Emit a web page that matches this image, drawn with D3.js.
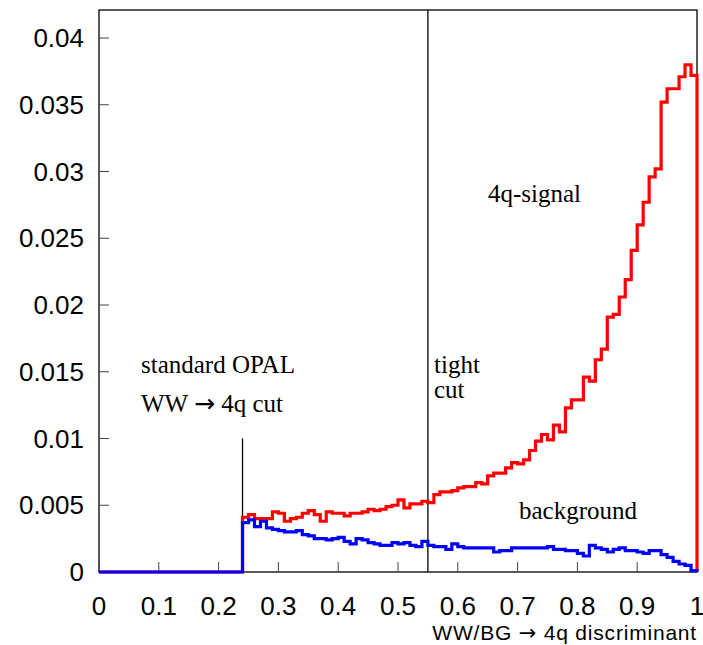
<!DOCTYPE html>
<html>
<head>
<meta charset="utf-8">
<script src="https://cdn.jsdelivr.net/npm/d3@7"></script>
<style>
  html, body { margin: 0; padding: 0; background: #fff; }
  svg { display: block; }
</style>
</head>
<body>
<svg id="chart" width="703" height="645"></svg>
<script>
// Histogram binning: 100 bins of width 0.01 on [0, 1]
const binWidth = 0.01;

// 4q signal (WW -> qqqq), normalised per bin
const signal = [
  0, 0, 0, 0, 0, 0, 0, 0, 0, 0,
  0, 0, 0, 0, 0, 0, 0, 0, 0, 0,
  0, 0, 0, 0,
  0.0041, 0.0043, 0.0040, 0.0040, 0.0040, 0.0045,
  0.0044, 0.0038, 0.0040, 0.0041, 0.0044, 0.0046, 0.0043, 0.0038, 0.0045, 0.0044,
  0.0044, 0.0042, 0.0044, 0.0044, 0.0045, 0.0047, 0.0046, 0.0047, 0.0049, 0.0050,
  0.0054, 0.0048, 0.0051, 0.0051, 0.0053, 0.0052, 0.0058, 0.0060, 0.0060, 0.0061,
  0.0063, 0.0064, 0.0064, 0.0067, 0.0066, 0.0072, 0.0074, 0.0074, 0.0078, 0.0082,
  0.0081, 0.0084, 0.0091, 0.0098, 0.0103, 0.0099, 0.0110, 0.0105, 0.0123, 0.0129,
  0.0129, 0.0146, 0.0143, 0.0159, 0.0167, 0.0191, 0.0193, 0.0206, 0.0219, 0.0241,
  0.0260, 0.0277, 0.0296, 0.0302, 0.0352, 0.0362, 0.0362, 0.0371, 0.0380, 0.0372
];

// Background, normalised per bin
const background = [
  0, 0, 0, 0, 0, 0, 0, 0, 0, 0,
  0, 0, 0, 0, 0, 0, 0, 0, 0, 0,
  0, 0, 0, 0,
  0.0037, 0.0039, 0.0034, 0.0038, 0.0033, 0.0032,
  0.0031, 0.0030, 0.0030, 0.0031, 0.0028, 0.0027, 0.0025, 0.0025, 0.0024, 0.0025,
  0.0026, 0.0023, 0.0021, 0.0025, 0.0024, 0.0022, 0.0021, 0.0020, 0.0020, 0.0022,
  0.0021, 0.0022, 0.0020, 0.0019, 0.0023, 0.0020, 0.0019, 0.0019, 0.0017, 0.0021,
  0.0019, 0.0018, 0.0018, 0.0018, 0.0018, 0.0018, 0.0015, 0.0016, 0.0016, 0.0018,
  0.0018, 0.0018, 0.0018, 0.0018, 0.0018, 0.0019, 0.0017, 0.0017, 0.0016, 0.0016,
  0.0014, 0.0012, 0.0020, 0.0018, 0.0017, 0.0015, 0.0017, 0.0018, 0.0016, 0.0016,
  0.0015, 0.0014, 0.0016, 0.0016, 0.0013, 0.0011, 0.0008, 0.0006, 0.0005, 0.0001
];

const xTicks = [0, 0.1, 0.2, 0.3, 0.4, 0.5, 0.6, 0.7, 0.8, 0.9, 1];
const xTickLabels = ["0", "0.1", "0.2", "0.3", "0.4", "0.5", "0.6", "0.7", "0.8", "0.9", "1"];
const yTicks = [0, 0.005, 0.01, 0.015, 0.02, 0.025, 0.03, 0.035, 0.04];
const yTickLabels = ["0", "0.005", "0.01", "0.015", "0.02", "0.025", "0.03", "0.035", "0.04"];

// Cut positions on the discriminant
const standardCut = 0.24;
const standardCutHeight = 0.01;
const tightCut = 0.55;

const ARROW = "\u2192";
const sans = "'Liberation Sans', Arial, sans-serif";
const serif = "'Liberation Serif', 'Times New Roman', serif";
const arrowFont = "'DejaVu Sans', sans-serif";

const svg = d3.select("#chart");
const plot = { left: 99, right: 697, top: 10, bottom: 572 };

const x = d3.scaleLinear().domain([0, 1]).range([plot.left, plot.right]);
const y = d3.scaleLinear().domain([0, 0.0421]).range([plot.bottom, plot.top]);

// Frame
svg.append("rect")
  .attr("x", plot.left)
  .attr("y", plot.top)
  .attr("width", plot.right - plot.left)
  .attr("height", plot.bottom - plot.top)
  .attr("fill", "none")
  .attr("stroke", "#000")
  .attr("stroke-width", 1.3);

// Ticks (inward) and labels
const tickLen = 10;
const gx = svg.append("g");
gx.selectAll("line").data(xTicks).enter().append("line")
  .attr("x1", d => x(d)).attr("x2", d => x(d))
  .attr("y1", plot.bottom).attr("y2", plot.bottom - tickLen)
  .attr("stroke", "#444").attr("stroke-width", 1);
gx.selectAll("text").data(xTicks).enter().append("text")
  .attr("x", d => x(d))
  .attr("y", 615)
  .attr("text-anchor", "middle")
  .attr("font-family", sans)
  .attr("font-size", 26)
  .text((d, i) => xTickLabels[i]);

const gy = svg.append("g");
gy.selectAll("line").data(yTicks).enter().append("line")
  .attr("x1", plot.left).attr("x2", plot.left + tickLen)
  .attr("y1", d => y(d)).attr("y2", d => y(d))
  .attr("stroke", "#444").attr("stroke-width", 1);
gy.selectAll("text").data(yTicks).enter().append("text")
  .attr("x", 84)
  .attr("y", d => y(d) + 9)
  .attr("text-anchor", "end")
  .attr("font-family", sans)
  .attr("font-size", 26)
  .text((d, i) => yTickLabels[i]);

// Axis title
const title = svg.append("text")
  .attr("x", plot.right)
  .attr("y", 640)
  .attr("text-anchor", "end")
  .attr("font-family", sans)
  .attr("font-size", 21)
  .attr("letter-spacing", 0.8);
title.append("tspan").text("WW/BG ");
title.append("tspan").attr("font-family", arrowFont).text(ARROW);
title.append("tspan").text(" 4q discriminant");

// Cut lines
svg.append("line")
  .attr("x1", x(standardCut)).attr("x2", x(standardCut))
  .attr("y1", y(0)).attr("y2", y(standardCutHeight))
  .attr("stroke", "#000").attr("stroke-width", 1.3);
svg.append("line")
  .attr("x1", x(tightCut)).attr("x2", x(tightCut))
  .attr("y1", y(0)).attr("y2", plot.top)
  .attr("stroke", "#000").attr("stroke-width", 1.3);

// Step outline for a histogram
function stepPoints(values) {
  const pts = values.map((v, i) => [i * binWidth, v]);
  pts.push([values.length * binWidth, values[values.length - 1]]);
  pts.push([values.length * binWidth, 0]);
  return pts;
}
const step = d3.line()
  .x(d => x(d[0]))
  .y(d => y(d[1]))
  .curve(d3.curveStepAfter);

// Histograms
svg.append("path")
  .attr("d", step(stepPoints(signal)))
  .attr("fill", "none")
  .attr("stroke", "#ff0000")
  .attr("stroke-width", 3.2)
  .attr("stroke-linejoin", "miter");

svg.append("path")
  .attr("d", step(stepPoints(background)))
  .attr("fill", "none")
  .attr("stroke", "#0000ff")
  .attr("stroke-width", 3.2)
  .attr("stroke-linejoin", "miter");

// Annotations
const notes = [
  { parts: ["standard OPAL"], x: 141, y: 373 },
  { parts: ["WW ", ARROW, " 4q cut"], x: 141, y: 412 },
  { parts: ["tight"], x: 434, y: 373 },
  { parts: ["cut"], x: 434, y: 398 },
  { parts: ["4q-signal"], x: 488, y: 202 },
  { parts: ["background"], x: 519, y: 519 }
];
const noteText = svg.selectAll("text.note").data(notes).enter().append("text")
  .attr("class", "note")
  .attr("x", d => d.x)
  .attr("y", d => d.y)
  .attr("font-family", serif)
  .attr("font-size", 25);
noteText.each(function (d) {
  const t = d3.select(this);
  d.parts.forEach(p => {
    const span = t.append("tspan").text(p);
    if (p === ARROW) span.attr("font-family", arrowFont);
  });
});
</script>
</body>
</html>
